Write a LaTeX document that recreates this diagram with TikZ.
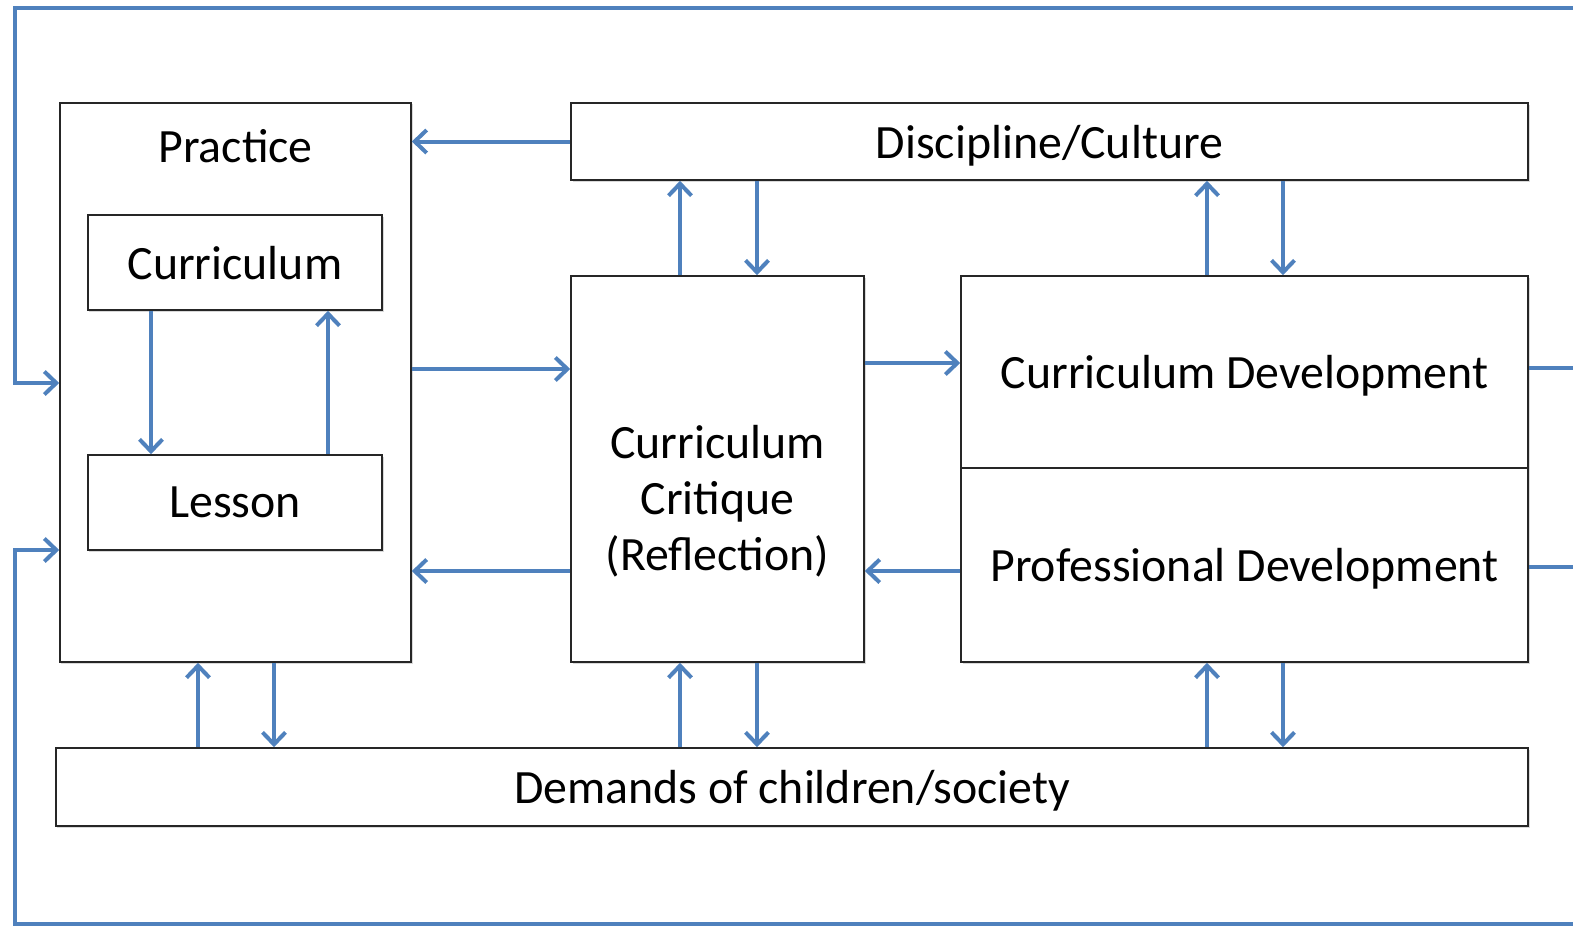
\documentclass[tikz,border=0pt]{standalone}
\usepackage{fontspec}
\setmainfont{Carlito}
\usetikzlibrary{arrows.meta,positioning,shadows}
\definecolor{linkblue}{RGB}{79,129,189}
\tikzset{%
  % Specifications for style of nodes:
            base/.style = {rectangle, draw=black!85, line width=1.6bp, fill=white,
                           text centered, align=center, text depth=0pt,
                           font=\fontsize{48}{56}\selectfont,
                           drop shadow={shadow xshift=1.5bp, shadow yshift=-1.5bp, opacity=.3}},
           frame/.style = {base},
           inner/.style = {base, minimum width=294bp, minimum height=95bp},
             bar/.style = {base, minimum height=78bp},
% arrows between the boxes
pil/.style={
           -{Straight Barb[length=12bp,width=23bp]},
           line width=4bp,
           draw=linkblue,},
wire/.style={
           line width=4bp,
           draw=linkblue,}
}

\begin{document}
\begin{tikzpicture}[x=1bp, y=-1bp]

\node (prac)	[frame, minimum width=351bp, minimum height=559bp,
                 label={[font=\fontsize{48}{56}\selectfont, anchor=center, yshift=-44bp]north:Practice}]
                 at (235.5,382.5)	{};
\node (cur)	[inner]	at (235,262.5)	{Curriculum};
\node (les)	[inner]	at (235,502.5)	{Lesson};
\node (disc)	[bar, minimum width=957bp, minimum height=77bp]	at (1049.5,141.5)	{Discipline/Culture};
\node (crit)	[frame, minimum width=293bp, minimum height=386bp,
                 label={[font=\fontsize{48}{56}\selectfont, align=center, anchor=center, yshift=-32bp]center:Curriculum\\Critique\\(Reflection)}]
                 at (717.5,469)	{};
\node (cdev)	[frame, minimum width=567bp, minimum height=192bp]	at (1244.5,372)	{Curriculum Development};
\node (pdev)	[frame, minimum width=567bp, minimum height=194bp]	at (1244.5,565)	{Professional Development};
\node (dem)	[bar, minimum width=1472bp]	at (792,787)	{Demands of children/society};

% inside practice
\draw[pil] (cur.south -| 151,0) -- (les.north -| 151,0);
\draw[pil] (les.north -| 328,0) -- (cur.south -| 328,0);

% horizontal links
\draw[pil] (disc.west) -- (disc.west -| prac.east);
\draw[pil] (prac.east |- 0,369) -- (crit.west |- 0,369);
\draw[pil] (crit.west |- 0,571) -- (prac.east |- 0,571);
\draw[pil] (crit.east |- 0,363) -- (cdev.west |- 0,363);
\draw[pil] (pdev.west |- 0,571) -- (crit.east |- 0,571);

% to and from discipline/culture
\draw[pil] (crit.north -| 680,0) -- (disc.south -| 680,0);
\draw[pil] (disc.south -| 757,0) -- (crit.north -| 757,0);
\draw[pil] (cdev.north -| 1207,0) -- (disc.south -| 1207,0);
\draw[pil] (disc.south -| 1283,0) -- (cdev.north -| 1283,0);

% to and from demands
\draw[pil] (dem.north -| 198,0) -- (prac.south -| 198,0);
\draw[pil] (prac.south -| 274,0) -- (dem.north -| 274,0);
\draw[pil] (dem.north -| 680,0) -- (crit.south -| 680,0);
\draw[pil] (crit.south -| 757,0) -- (dem.north -| 757,0);
\draw[pil] (dem.north -| 1207,0) -- (pdev.south -| 1207,0);
\draw[pil] (pdev.south -| 1283,0) -- (dem.north -| 1283,0);

% feedback loops round the outside
\coordinate (topR) at (1573,8);
\coordinate (botR) at (1573,924);
\draw[pil] (topR) -| (15,383) -- (prac.west |- 0,383);
\draw[pil] (botR) -| (15,550) -- (prac.west |- 0,550);
\draw[wire] (cdev.east |- 0,368) -- (topR |- 0,368);
\draw[wire] (pdev.east |- 0,567) -- (topR |- 0,567);

% fix the page to the reference size
\pgfresetboundingbox
\useasboundingbox (0,0) rectangle (1573,930);
\end{tikzpicture}
\end{document}
